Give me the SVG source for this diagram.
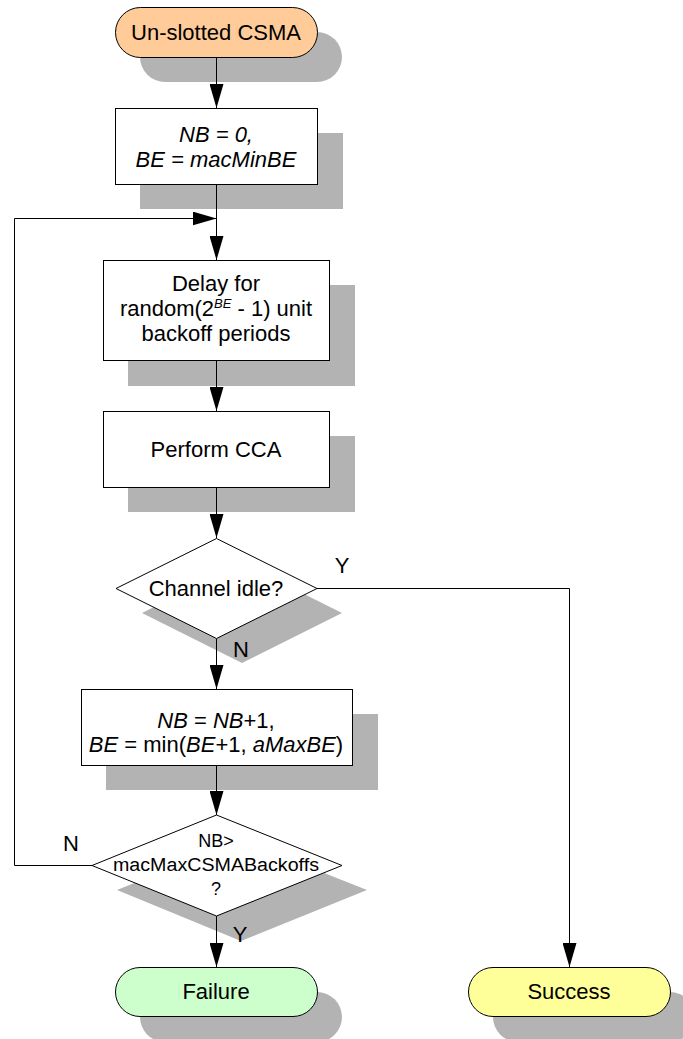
<svg xmlns="http://www.w3.org/2000/svg" width="683" height="1039" viewBox="0 0 683 1039">
<style>
text{font-family:"Liberation Sans",Arial,sans-serif;font-size:22px;fill:#000;text-anchor:middle}
.sh{fill:#b3b3b3;stroke:none}
.box{fill:#fff;stroke:#000;stroke-width:1}
.it{font-style:italic}
.con{fill:none;stroke:#000;stroke-width:1}
.small{font-size:18px}
</style>
<defs>
<marker id="arr" markerUnits="userSpaceOnUse" markerWidth="24" markerHeight="14" refX="24" refY="7" orient="auto">
<path d="M0,0 L24,7 L0,14 z" fill="#000"/>
</marker>
</defs>
<g id="start">
<rect class="sh" x="140" y="32" width="202" height="50" rx="25"/>
<rect x="115.5" y="7.5" width="202" height="50" rx="25" fill="#ffcc99" stroke="#000"/>
<text x="216" y="40">Un-slotted CSMA</text>
</g>
<g id="init">
<rect class="sh" x="140" y="133" width="203" height="76"/>
<rect class="box" x="115.5" y="108.5" width="202" height="76"/>
<text class="it" x="216" y="142">NB = 0,</text>
<text class="it" x="216" y="167">BE = macMinBE</text>
</g>
<g id="delay">
<rect class="sh" x="128" y="285" width="227" height="101"/>
<rect class="box" x="103.5" y="260.5" width="226" height="100"/>
<text x="216" y="291">Delay for</text>
<text x="216" y="316">random(2<tspan class="it" font-size="13" dy="-8">BE</tspan><tspan dy="8"> - 1) unit</tspan></text>
<text x="216" y="341">backoff periods</text>
</g>
<g id="cca">
<rect class="sh" x="128" y="436" width="227" height="76"/>
<rect class="box" x="103.5" y="411.5" width="226" height="76"/>
<text x="216" y="457">Perform CCA</text>
</g>
<g id="idle">
<polygon class="sh" points="242,563 342,613 242,663 142,613"/>
<polygon class="box" points="216.5,538.5 317,588.5 216.5,638.5 116,588.5"/>
<text x="216" y="596">Channel idle?</text>
</g>
<g id="update">
<rect class="sh" x="106" y="714" width="272" height="76"/>
<rect class="box" x="81.5" y="689.5" width="271" height="76"/>
<text x="216" y="728"><tspan class="it">NB</tspan> = <tspan class="it">NB</tspan>+1,</text>
<text x="216" y="752"><tspan class="it">BE</tspan> = min(<tspan class="it">BE</tspan>+1, <tspan class="it">aMaxBE</tspan>)</text>
</g>
<g id="check">
<polygon class="sh" points="241,840 367,890 241,941 117,890"/>
<polygon class="box" points="216.5,815 342,865.5 216.5,916 92,865.5"/>
<text class="small" x="216" y="847">NB&gt;</text>
<text class="small" x="216" y="871" textLength="206" lengthAdjust="spacingAndGlyphs">macMaxCSMABackoffs</text>
<text class="small" x="216" y="895">?</text>
</g>
<g id="failure">
<rect class="sh" x="140" y="992" width="202" height="50" rx="25"/>
<rect x="115.5" y="967.5" width="202" height="49" rx="24.5" fill="#ccffcc" stroke="#000"/>
<text x="216" y="999">Failure</text>
</g>
<g id="success">
<rect class="sh" x="493" y="992" width="202" height="50" rx="25"/>
<rect x="468.5" y="967.5" width="202" height="49" rx="24.5" fill="#ffff99" stroke="#000"/>
<text x="569" y="999">Success</text>
</g>
<g id="connectors">
<line class="con" x1="216.5" y1="58" x2="216.5" y2="108" marker-end="url(#arr)"/>
<line class="con" x1="216.5" y1="185" x2="216.5" y2="260" marker-end="url(#arr)"/>
<path class="con" d="M92,865.5 H14.5 V218.5 H216.5" marker-end="url(#arr)"/>
<line class="con" x1="216.5" y1="361" x2="216.5" y2="411" marker-end="url(#arr)"/>
<line class="con" x1="216.5" y1="488" x2="216.5" y2="538" marker-end="url(#arr)"/>
<path class="con" d="M317,588.5 H569.5 V967" marker-end="url(#arr)"/>
<line class="con" x1="216.5" y1="639" x2="216.5" y2="689" marker-end="url(#arr)"/>
<line class="con" x1="216.5" y1="766" x2="216.5" y2="815" marker-end="url(#arr)"/>
<line class="con" x1="216.5" y1="916" x2="216.5" y2="967" marker-end="url(#arr)"/>
<text x="342" y="573">Y</text>
<text x="241" y="657">N</text>
<text x="71" y="851">N</text>
<text x="240" y="942">Y</text>
</g>
</svg>
